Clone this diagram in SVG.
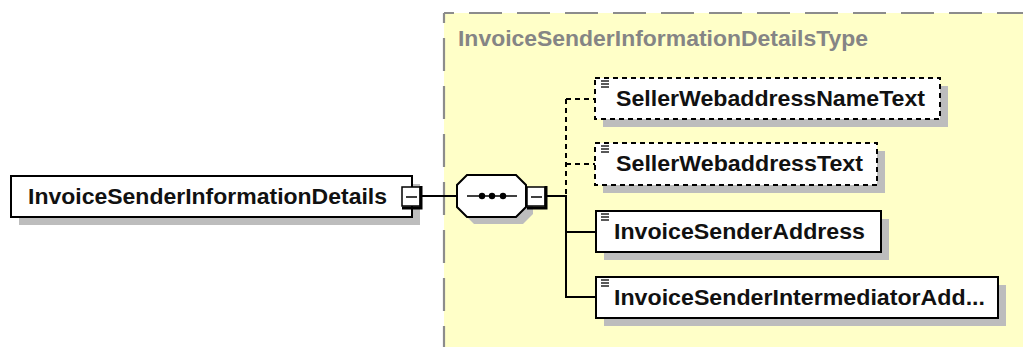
<svg xmlns="http://www.w3.org/2000/svg" width="1023" height="347" viewBox="0 0 1023 347">
<style>
.bg{fill:#FFFFC8;}
.frame{fill:none;stroke:#8C8C8C;stroke-width:2.2;stroke-dasharray:33 15;}
.shadow{fill:#BDBDBD;}
.box{fill:#FFFFFF;stroke:#000;stroke-width:2;}
.dbox{fill:#FFFFFF;stroke:#000;stroke-width:2;stroke-dasharray:5 4;}
.txt{font-family:"Liberation Sans",Arial,sans-serif;font-weight:bold;font-size:22px;fill:#111;}
.ttl{font-family:"Liberation Sans",Arial,sans-serif;font-weight:bold;font-size:22px;fill:#858585;}
.conn{fill:none;stroke:#000;stroke-width:2;}
.dconn{fill:none;stroke:#000;stroke-width:2;stroke-dasharray:5 4;}
.icon{stroke:#222;stroke-width:1.5;}
.mbox{fill:#FFFFFF;stroke:#000;stroke-width:1.5;}
.mthick{fill:none;stroke:#000;stroke-width:3;}
</style>
<rect width="1023" height="347" fill="#FFFFFF"/>
<g id="type-region">
<rect class="bg" x="444" y="13" width="590" height="345"/>
<line class="frame" x1="444" y1="13" x2="1030" y2="13" stroke-dashoffset="23"/>
<line class="frame" x1="444" y1="13" x2="444" y2="350" stroke-dashoffset="23"/>
<text class="ttl" x="458" y="46" textLength="410" lengthAdjust="spacingAndGlyphs">InvoiceSenderInformationDetailsType</text>
</g>
<g id="connectors">
<line class="conn" x1="421" y1="196" x2="457" y2="196"/>
<line class="conn" x1="546" y1="196" x2="566" y2="196"/>
<line class="dconn" x1="566" y1="99" x2="566" y2="196"/>
<line class="conn" x1="566" y1="195" x2="566" y2="298"/>
<line class="dconn" x1="566" y1="99" x2="595" y2="99"/>
<line class="dconn" x1="566" y1="164" x2="595" y2="164"/>
<line class="conn" x1="565" y1="232" x2="596" y2="232"/>
<line class="conn" x1="565" y1="297" x2="596" y2="297"/>
</g>
<g id="root-element">
<rect class="shadow" x="19" y="184" width="401" height="41"/>
<rect class="box" x="11" y="176" width="401" height="41"/>
<text class="txt" x="28" y="204" textLength="359" lengthAdjust="spacingAndGlyphs">InvoiceSenderInformationDetails</text>
<rect class="mbox" x="402" y="187" width="18" height="19"/>
<polyline class="mthick" points="421,186 421,208 402,208"/>
<line x1="406" y1="197" x2="417" y2="197" stroke="#000" stroke-width="1.5"/>
</g>
<g id="sequence">
<polygon class="shadow" points="474,182 523,182 533,192 533,214 523,224 474,224 464,214 464,192"/>
<polygon class="box" points="467,175 516,175 526,185 526,207 516,217 467,217 457,207 457,185"/>
<line x1="467" y1="196" x2="517" y2="196" stroke="#000" stroke-width="1.5"/>
<circle cx="482" cy="196" r="3.2" fill="#000"/>
<circle cx="492" cy="196" r="3.2" fill="#000"/>
<circle cx="503" cy="196" r="3.2" fill="#000"/>
<rect class="mbox" x="527" y="187" width="18" height="19"/>
<polyline class="mthick" points="546,186 546,208 527,208"/>
<line x1="531" y1="197" x2="542" y2="197" stroke="#000" stroke-width="1.5"/>
</g>
<g id="seller-webaddress-name-text">
<rect class="shadow" x="603" y="86" width="345" height="41"/>
<rect class="dbox" x="595" y="78" width="345" height="41"/>
<line class="icon" x1="601" y1="81" x2="609" y2="81"/>
<line class="icon" x1="601" y1="84" x2="609" y2="84"/>
<line class="icon" x1="601" y1="87" x2="609" y2="87"/>
<text class="txt" x="616" y="106" textLength="309" lengthAdjust="spacingAndGlyphs">SellerWebaddressNameText</text>
</g>
<g id="seller-webaddress-text">
<rect class="shadow" x="603" y="151" width="282" height="42"/>
<rect class="dbox" x="595" y="143" width="282" height="42"/>
<line class="icon" x1="601" y1="146" x2="609" y2="146"/>
<line class="icon" x1="601" y1="149" x2="609" y2="149"/>
<line class="icon" x1="601" y1="152" x2="609" y2="152"/>
<text class="txt" x="616" y="171" textLength="247" lengthAdjust="spacingAndGlyphs">SellerWebaddressText</text>
</g>
<g id="invoice-sender-address">
<rect class="shadow" x="604" y="219" width="285" height="41"/>
<rect class="box" x="596" y="211" width="285" height="41"/>
<line class="icon" x1="601" y1="214" x2="609" y2="214"/>
<line class="icon" x1="601" y1="217" x2="609" y2="217"/>
<line class="icon" x1="601" y1="220" x2="609" y2="220"/>
<text class="txt" x="614" y="239" textLength="251" lengthAdjust="spacingAndGlyphs">InvoiceSenderAddress</text>
</g>
<g id="invoice-sender-intermediator-address">
<rect class="shadow" x="604" y="285" width="402" height="41"/>
<rect class="box" x="596" y="277" width="402" height="41"/>
<line class="icon" x1="601" y1="280" x2="609" y2="280"/>
<line class="icon" x1="601" y1="283" x2="609" y2="283"/>
<line class="icon" x1="601" y1="286" x2="609" y2="286"/>
<text class="txt" x="614" y="305" textLength="371" lengthAdjust="spacingAndGlyphs">InvoiceSenderIntermediatorAdd...</text>
</g>
</svg>
